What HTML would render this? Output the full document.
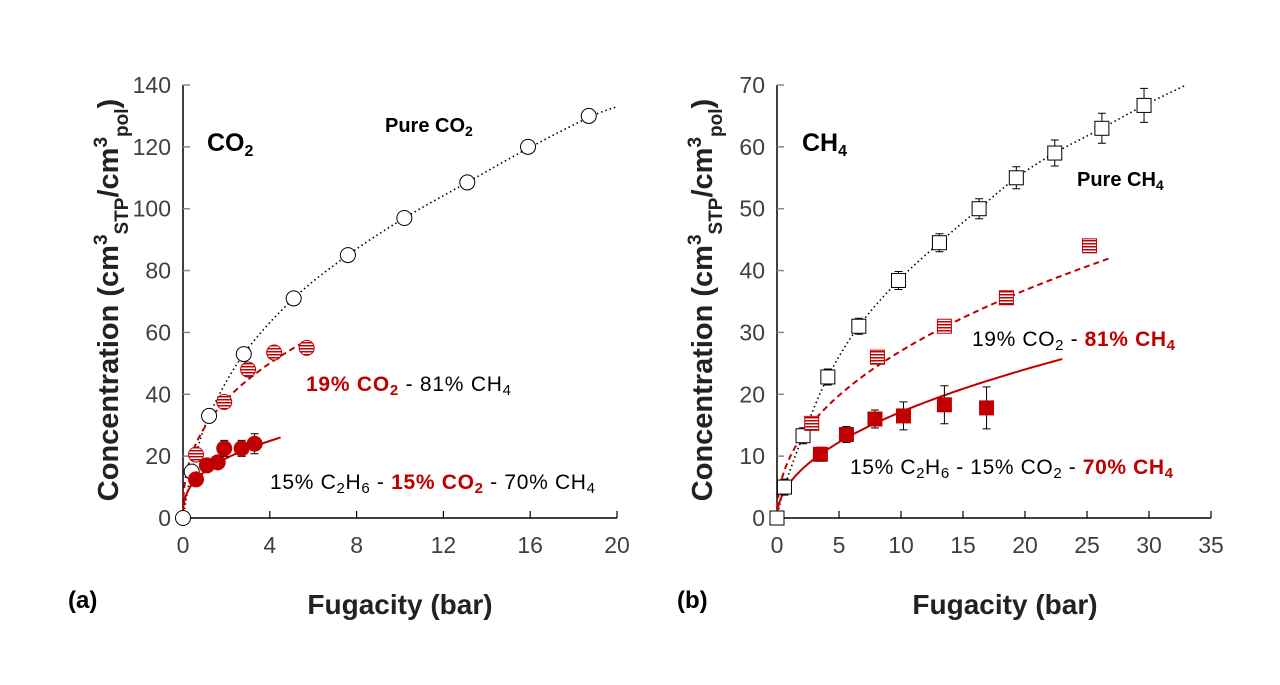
<!DOCTYPE html><html><head><style>body{margin:0;background:#fff}svg{font-family:"Liberation Sans",sans-serif}</style></head><body>
<svg id="s" width="1280" height="680" xmlns="http://www.w3.org/2000/svg"></svg>
<script>
const s=document.getElementById('s');let h='';
h+=`<defs><pattern id="hp" width="4" height="3" patternUnits="userSpaceOnUse"><rect width="4" height="3" fill="#fff"/><rect width="4" height="1.5" fill="#c00000"/></pattern></defs>`;
function panel(x0,xw,xmax,xstep,ymax,ystep){
 const X=v=>x0+v/xmax*xw, Y=v=>518-v/ymax*433;
 h+=`<line x1="${x0}" y1="85" x2="${x0}" y2="519" stroke="#000" stroke-width="1.5"/><line x1="${x0}" y1="518" x2="${x0+xw}" y2="518" stroke="#000" stroke-width="1.5"/>`;
 for(let v=0;v<=ymax;v+=ystep){const y=Y(v);if(v>0)h+=`<line x1="${x0}" y1="${y}" x2="${x0+7}" y2="${y}" stroke="#888" stroke-width="1.5"/>`;h+=`<text x="${x0-12}" y="${y+8}" font-size="23" text-anchor="end" fill="#404040">${v}</text>`;}
 for(let v=0;v<=xmax;v+=xstep){const x=X(v);if(v>0)h+=`<line x1="${x}" y1="518" x2="${x}" y2="511" stroke="#000" stroke-width="1.2"/>`;h+=`<text x="${x}" y="553" font-size="23" text-anchor="middle" fill="#404040">${v}</text>`;}
 return [X,Y];
}
function curve(X,Y,a,b,fmax,st){let p='';for(let i=0;i<=120;i++){const f=fmax*Math.pow(i/120,2);p+=(i?'L':'M')+X(f).toFixed(1)+','+Y(a*Math.pow(f,b)).toFixed(1);}h+=`<path d="${p}" fill="none" ${st}/>`;}
function spline(X,Y,arr,st){const P=arr.map(([f,c])=>[X(f),Y(c)]);let d='M'+P[0];for(let i=0;i<P.length-1;i++){const p0=P[i-1]||P[i],p1=P[i],p2=P[i+1],p3=P[i+2]||p2;
 d+=`C${p1[0]+(p2[0]-p0[0])/6},${p1[1]+(p2[1]-p0[1])/6} ${p2[0]-(p3[0]-p1[0])/6},${p2[1]-(p3[1]-p1[1])/6} ${p2[0]},${p2[1]}`;}h+=`<path d="${d}" fill="none" ${st}/>`;}
function pts(X,Y,arr,shape,fill,stroke,err){arr.forEach(([f,c],i)=>{const x=X(f),y=Y(c);const e=err?err[i]||0:0;
 if(e)h+=`<path d="M${x},${y-e}V${y+e}M${x-4},${y-e}H${x+4}M${x-4},${y+e}H${x+4}" stroke="#000" stroke-width="1"/>`;
 if(shape=='c')h+=`<circle cx="${x}" cy="${y}" r="7.5" fill="${fill}" stroke="${stroke}" stroke-width="1"/>`;
 else h+=`<rect x="${x-7}" y="${y-7}" width="14" height="14" fill="${fill}" stroke="${stroke}" stroke-width="1"/>`;});}
const DOT='stroke="#000" stroke-width="1.6" stroke-dasharray="1.5 3"';
let [X,Y]=panel(183,434,20,4,140,20);
spline(X,Y,[[0,0],[0.4,15],[1.2,33],[2.8,53],[5.1,71],[7.6,85],[10.2,97],[13.1,108.5],[15.9,119.5],[18.7,129.5],[20,133]],DOT);
curve(X,Y,29.3,0.386,5.6,'stroke="#c00000" stroke-width="2" stroke-dasharray="6 4"');
curve(X,Y,15,0.366,4.5,'stroke="#c00000" stroke-width="2"');
pts(X,Y,[[0,0],[0.4,15],[1.2,33],[2.8,53],[5.1,71],[7.6,85],[10.2,97],[13.1,108.5],[15.9,120],[18.7,130]],'c','#fff','#000',[0,0,0,0,0,0,0,0,3,3]);
pts(X,Y,[[0.6,20.5],[1.9,37.5],[3,48],[4.2,53.5],[5.7,55]],'c','url(#hp)','#c00000');
pts(X,Y,[[0.6,12.5],[1.1,17],[1.6,18],[1.9,22.5],[2.7,22.5],[3.3,24]],'c','#c00000','#c00000',[0,5,5,8,8,10]);
[X,Y]=panel(777,434,35,5,70,10);
spline(X,Y,[[0,0],[0.6,5],[2.1,13.3],[4.1,22.8],[6.6,31],[9.8,38.4],[13.1,44.5],[16.3,50],[19.3,55],[22.4,59],[26.2,63],[29.6,66.7],[33,70]],DOT);
curve(X,Y,9.65,0.447,26.8,'stroke="#c00000" stroke-width="2" stroke-dasharray="6 4"');
curve(X,Y,5.6,0.486,23,'stroke="#c00000" stroke-width="2"');
pts(X,Y,[[0,0],[0.6,5],[2.1,13.3],[4.1,22.8],[6.6,31],[9.8,38.4],[13.1,44.5],[16.3,50],[19.3,55],[22.4,59],[26.2,63],[29.6,66.7]],'s','#fff','#000',[0,8,8,8,8,9,9,10,11,13,15,17]);
pts(X,Y,[[2.8,15.3],[8.1,26],[13.5,31],[18.5,35.6],[25.2,44]],'s','url(#hp)','#c00000');
pts(X,Y,[[3.5,10.3],[5.6,13.5],[7.9,16],[10.2,16.5],[13.5,18.3],[16.9,17.8]],'s','#c00000','#c00000',[7,8,9,14,19,21]);
const R='#c00000';
h+=`<text x="207" y="151" font-size="25" font-weight="bold">CO<tspan font-size="16" dy="5">2</tspan></text>
<text x="385" y="132" font-size="20" font-weight="bold">Pure CO<tspan font-size="14" dy="4">2</tspan></text>
<text x="306" y="391" font-size="21" textLength="205"><tspan font-weight="bold" fill="${R}">19% CO<tspan font-size="15" dy="4">2</tspan></tspan><tspan dy="-4"> - 81% CH</tspan><tspan font-size="15" dy="4">4</tspan></text>
<text x="270" y="489" font-size="21" textLength="325"><tspan>15% C</tspan><tspan font-size="15" dy="4">2</tspan><tspan dy="-4">H</tspan><tspan font-size="15" dy="4">6</tspan><tspan dy="-4"> - </tspan><tspan font-weight="bold" fill="${R}">15% CO<tspan font-size="15" dy="4">2</tspan></tspan><tspan dy="-4"> - 70% CH</tspan><tspan font-size="15" dy="4">4</tspan></text>
<text x="802" y="151" font-size="25" font-weight="bold">CH<tspan font-size="16" dy="5">4</tspan></text>
<text x="1077" y="186" font-size="20" font-weight="bold">Pure CH<tspan font-size="14" dy="4">4</tspan></text>
<text x="972" y="346" font-size="21" textLength="203">19% CO<tspan font-size="15" dy="4">2</tspan><tspan dy="-4"> - </tspan><tspan font-weight="bold" fill="${R}">81% CH<tspan font-size="15" dy="4">4</tspan></tspan></text>
<text x="850" y="474" font-size="21" textLength="323">15% C<tspan font-size="15" dy="4">2</tspan><tspan dy="-4">H</tspan><tspan font-size="15" dy="4">6</tspan><tspan dy="-4"> - 15% CO</tspan><tspan font-size="15" dy="4">2</tspan><tspan dy="-4"> - </tspan><tspan font-weight="bold" fill="${R}">70% CH<tspan font-size="15" dy="4">4</tspan></tspan></text>
<text x="400" y="614" font-size="28" font-weight="bold" text-anchor="middle" fill="#222">Fugacity (bar)</text>
<text x="1005" y="614" font-size="28" font-weight="bold" text-anchor="middle" fill="#222">Fugacity (bar)</text>
<text x="68" y="608" font-size="24" font-weight="bold">(a)</text>
<text x="677" y="608" font-size="24" font-weight="bold">(b)</text>`;
function ytitle(x){return `<text transform="translate(${x},300) rotate(-90)" font-size="29" font-weight="bold" text-anchor="middle" fill="#222">Concentration (cm<tspan font-size="19" dy="-11">3</tspan><tspan font-size="19" dy="21">STP</tspan><tspan dy="-10">/cm</tspan><tspan font-size="19" dy="-11">3</tspan><tspan font-size="19" dy="21">pol</tspan><tspan dy="-10">)</tspan></text>`;}
h+=ytitle(118)+ytitle(712);
s.innerHTML=h;
</script></body></html>
